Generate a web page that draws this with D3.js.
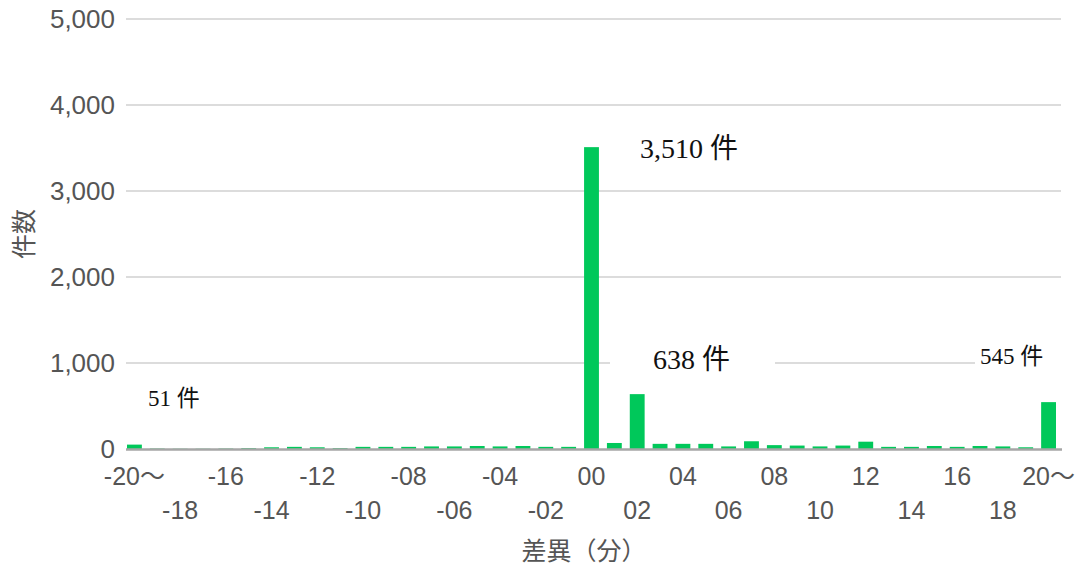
<!DOCTYPE html>
<html>
<head>
<meta charset="utf-8">
<script src="https://cdn.jsdelivr.net/npm/d3@7"></script>
<style>
  body { margin: 0; background: #fff; }
  .tick text { fill: #555; }
</style>
</head>
<body>
<div id="chart"></div>
<script>
// categories (difference in minutes)
const labels = ['-20～', '-19', '-18', '-17', '-16', '-15', '-14', '-13', '-12', '-11', '-10',
  '-09', '-08', '-07', '-06', '-05', '-04', '-03', '-02', '-01', '00',
  '01', '02', '03', '04', '05', '06', '07', '08', '09', '10',
  '11', '12', '13', '14', '15', '16', '17', '18', '19', '20～']
// counts per category
const counts = [51, 5, 3, 3, 5, 10, 20, 25, 20, 10, 25,
  25, 25, 30, 30, 35, 30, 35, 25, 25, 3510,
  70, 638, 60, 60, 60, 30, 90, 45, 40, 30,
  40, 85, 25, 25, 35, 25, 35, 30, 20, 545]
const yTicks = [0, 1000, 2000, 3000, 4000, 5000]
// callouts
const notes = [
  { label: '3,510 件', value: 3510, size: 28 },
  { label: '638 件', value: 638, size: 28 },
  { label: '545 件', value: 545, size: 23 },
  { label: '51 件', value: 51, size: 23 }
]

const width = 1077
const height = 568

const svg = d3.select('#chart')
  .append('svg')
  .attr('width', width)
  .attr('height', height)

const x = d3.scaleBand()
  .domain(labels)
  .range([127, 1056])
  .paddingInner(0.35)
  .paddingOuter(0)

const y = d3.scaleLinear()
  .domain([0, 5000])
  .range([449, 19])

// grid lines
svg.append('g')
  .selectAll('line')
  .data(yTicks.filter(d => d > 0))
  .join('line')
  .attr('x1', 126)
  .attr('x2', 1061)
  .attr('y1', d => y(d))
  .attr('y2', d => y(d))
  .attr('stroke', '#dcdcdc')
  .attr('stroke-width', 2)

// Y axis
const yAxis = svg.append('g')
  .attr('transform', 'translate(126, 0)')
  .call(d3.axisLeft(y).tickValues(yTicks).tickSize(0).tickPadding(11).tickFormat(d3.format(',')))
yAxis.select('.domain').remove()
yAxis.selectAll('text')
  .style('font-family', '"Liberation Sans", Arial, sans-serif')
  .style('font-size', '26px')

// bars
svg.append('g')
  .selectAll('rect')
  .data(counts)
  .join('rect')
  .attr('x', (d, i) => x(labels[i]))
  .attr('y', d => y(d))
  .attr('width', x.bandwidth())
  .attr('height', d => y(0) - y(d))
  .attr('fill', '#00c85a')

// zero line
svg.append('line')
  .attr('x1', 126)
  .attr('x2', 1062)
  .attr('y1', y(0) + 0.5)
  .attr('y2', y(0) + 0.5)
  .attr('stroke', '#a6a6a6')
  .attr('stroke-width', 2.5)

// X axis labels, every second one, alternating rows
const xAxis = svg.append('g')
  .attr('transform', `translate(0, ${y(0)})`)
  .call(d3.axisBottom(x).tickValues(labels.filter((d, i) => i % 2 === 0)).tickSize(0).tickPadding(0))
xAxis.select('.domain').remove()
xAxis.selectAll('text')
  .style('font-family', '"Liberation Sans", "Noto Sans CJK JP", sans-serif')
  .style('font-size', '25px')
  .attr('dy', (d, i) => i % 2 === 0 ? '1.42em' : '2.8em')

// axis titles
svg.append('text')
  .attr('transform', 'translate(33, 234) rotate(-90)')
  .attr('text-anchor', 'middle')
  .style('font-family', '"Noto Sans CJK JP", sans-serif')
  .style('font-size', '25px')
  .attr('fill', '#555')
  .text('件数')

svg.append('text')
  .attr('x', 584)
  .attr('y', 560)
  .attr('text-anchor', 'middle')
  .style('font-family', '"Noto Sans CJK JP", sans-serif')
  .style('font-size', '25px')
  .attr('fill', '#555')
  .text('差異（分）')

// callouts with white boxes behind them
const notePos = [
  { x: 640, y: 158, box: [628, 128, 130, 40] },
  { x: 653, y: 369, box: [610, 340, 165, 44] },
  { x: 980, y: 364, box: [975, 338, 88, 36] },
  { x: 148, y: 406, box: [140, 380, 80, 36] }
]
const noteG = svg.append('g')
noteG.selectAll('rect')
  .data(notes)
  .join('rect')
  .attr('x', (d, i) => notePos[i].box[0])
  .attr('y', (d, i) => notePos[i].box[1])
  .attr('width', (d, i) => notePos[i].box[2])
  .attr('height', (d, i) => notePos[i].box[3])
  .attr('fill', '#fff')
noteG.selectAll('text')
  .data(notes)
  .join('text')
  .attr('x', (d, i) => notePos[i].x)
  .attr('y', (d, i) => notePos[i].y)
  .style('font-family', '"Liberation Serif", "Noto Sans CJK JP", serif')
  .style('font-size', d => d.size + 'px')
  .attr('fill', '#111')
  .text(d => d.label)
</script>
</body>
</html>
